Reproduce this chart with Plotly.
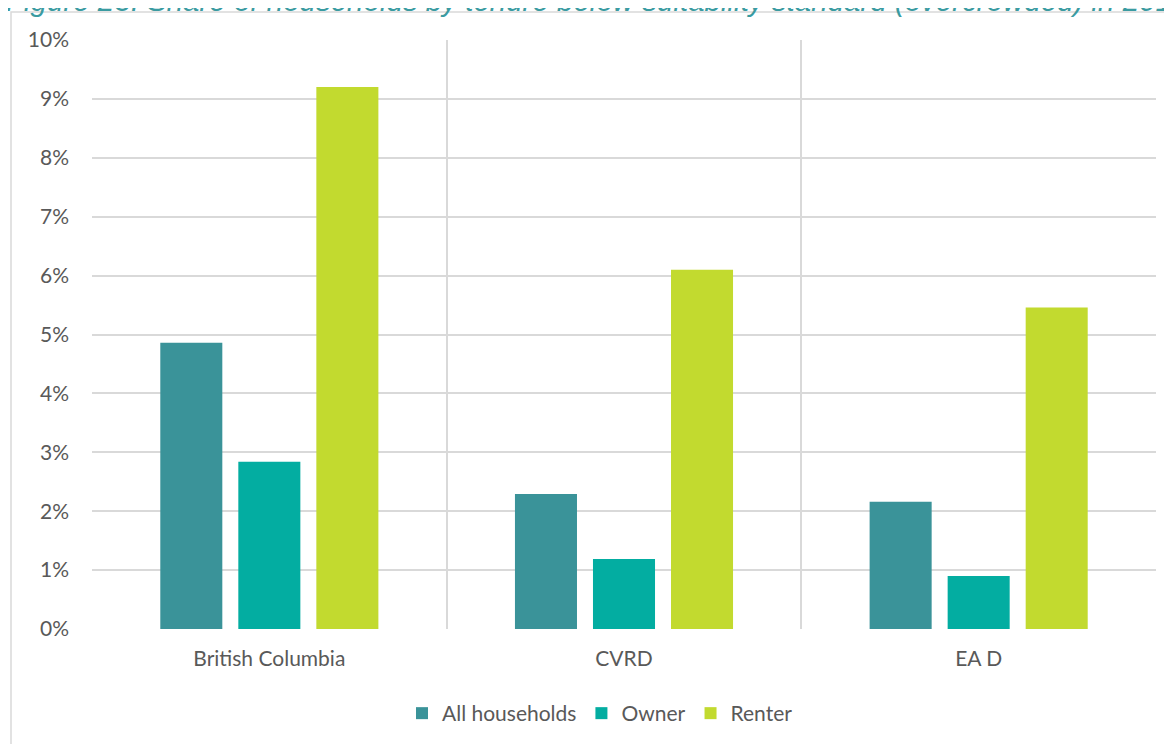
import plotly.graph_objects as go

categories = ["British Columbia", "CVRD", "EA D"]
all_households = [4.86, 2.29, 2.16]
owner = [2.84, 1.19, 0.90]
renter = [9.20, 6.10, 5.46]
series_names = ["All households", "Owner", "Renter"]
series_colors = ["#3A9399", "#03ADA1", "#C2DA2F"]
y_ticks = [0, 1, 2, 3, 4, 5, 6, 7, 8, 9, 10]
y_tick_labels = [f"{v}%" for v in y_ticks]
title_text = "Figure 23: Share of households by tenure below suitability standard (overcrowded) in 2016"

# page body margin offsets the figure by 8px; positions below are in figure px
OFF = 8
W, H = 1172, 744
L, R, T, B = 92 - OFF, 24, 40 - OFF, 123
pw = W - L - R
ph = H - T - B

def px_x(p):
    return (p - L) / pw

def px_y(p):
    return (H - B - p) / ph

fig = go.Figure()
for name, vals, col in zip(series_names, [all_households, owner, renter], series_colors):
    fig.add_trace(go.Bar(x=categories, y=vals, name=name, marker_color=col,
                         marker_line_width=0, hoverinfo="skip"))

font_family = "Lato, 'Open Sans', sans-serif"
fs = 21
fig.update_layout(
    width=W, height=H,
    margin=dict(l=L, r=R, t=T, b=B),
    paper_bgcolor="white", plot_bgcolor="white",
    barmode="group", bargap=0.34, bargroupgap=0.205,
    font=dict(family=font_family, size=fs, color="#595959"),
    showlegend=True,
    legend=dict(orientation="h", x=px_x(592), xanchor="center", y=px_y(685), yanchor="top",
                font=dict(size=fs, color="#595959"), itemwidth=30, traceorder="normal"),
    xaxis=dict(type="category", tickson="boundaries", showgrid=True, gridcolor="#d9d9d9",
               gridwidth=1.5, ticks="", showline=False, zeroline=False,
               ticklabelstandoff=15, tickfont=dict(size=fs, color="#595959")),
    yaxis=dict(range=[0, 10], tickvals=y_ticks, ticktext=y_tick_labels, showgrid=True,
               gridcolor="#d9d9d9", gridwidth=1.5, zeroline=False, showline=False,
               ticks="", ticklabelstandoff=22, tickfont=dict(size=fs, color="#595959")),
)

# chart frame
fig.add_shape(type="rect", xref="paper", yref="paper",
              x0=px_x(3), x1=px_x(1200), y0=px_y(780), y1=px_y(4),
              line=dict(color="#d9d9d9", width=1.5), fillcolor="rgba(0,0,0,0)", layer="below")

fig.add_annotation(text=title_text, xref="paper", yref="paper",
                   x=px_x(-4), xanchor="left", y=px_y(11), yanchor="bottom",
                   showarrow=False,
                   font=dict(family="Liberation Sans, Arial, sans-serif", size=29.5,
                             color="#3A9BA1", style="italic"))

fig.write_html("out.html")
